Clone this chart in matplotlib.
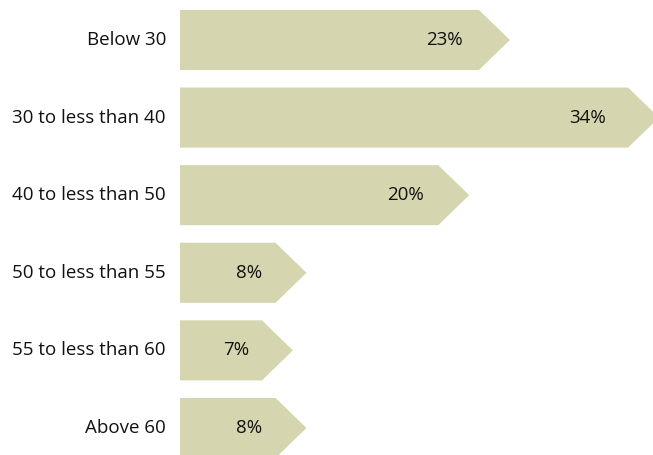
import matplotlib

matplotlib.use("Agg")
import matplotlib.pyplot as plt
from matplotlib.patches import Polygon

categories = [
    "Below 30",
    "30 to less than 40",
    "40 to less than 50",
    "50 to less than 55",
    "55 to less than 60",
    "Above 60",
]
shares = [23, 34, 20, 8, 7, 8]
value_labels = ["23%", "34%", "20%", "8%", "7%", "8%"]

BAR_COLOR = "#d5d5af"
TEXT_COLOR = "#111111"
FONT = ["Open Sans", "DejaVu Sans"]

fig = plt.figure(figsize=(6.53, 4.55), dpi=100)
ax = fig.add_axes([180 / 653, 0, 473 / 653, 1])

px_per_unit = 13.56
head = 31 / px_per_unit
tip_extra = 18 / px_per_unit
half_h = 0.387

for i, (v, lab) in enumerate(zip(shares, value_labels)):
    tip = v + tip_extra
    pts = [
        (0, i - half_h),
        (tip - head, i - half_h),
        (tip, i),
        (tip - head, i + half_h),
        (0, i + half_h),
    ]
    ax.add_patch(Polygon(pts, closed=True, facecolor=BAR_COLOR, edgecolor="none"))
    # value label sits a little inside the arrow body
    ax.text(v * 0.96 - 2.6, i, lab, ha="center", va="center",
            fontsize=13.5, color=TEXT_COLOR, family=FONT)
    ax.text(-14 / px_per_unit, i, categories[i], ha="right", va="center",
            fontsize=13.5, color=TEXT_COLOR, family=FONT, clip_on=False)

ax.set_xlim(0, 473 / px_per_unit)
ax.set_ylim(5.348, -0.515)
ax.axis("off")

fig.savefig("out.png", dpi=100)
